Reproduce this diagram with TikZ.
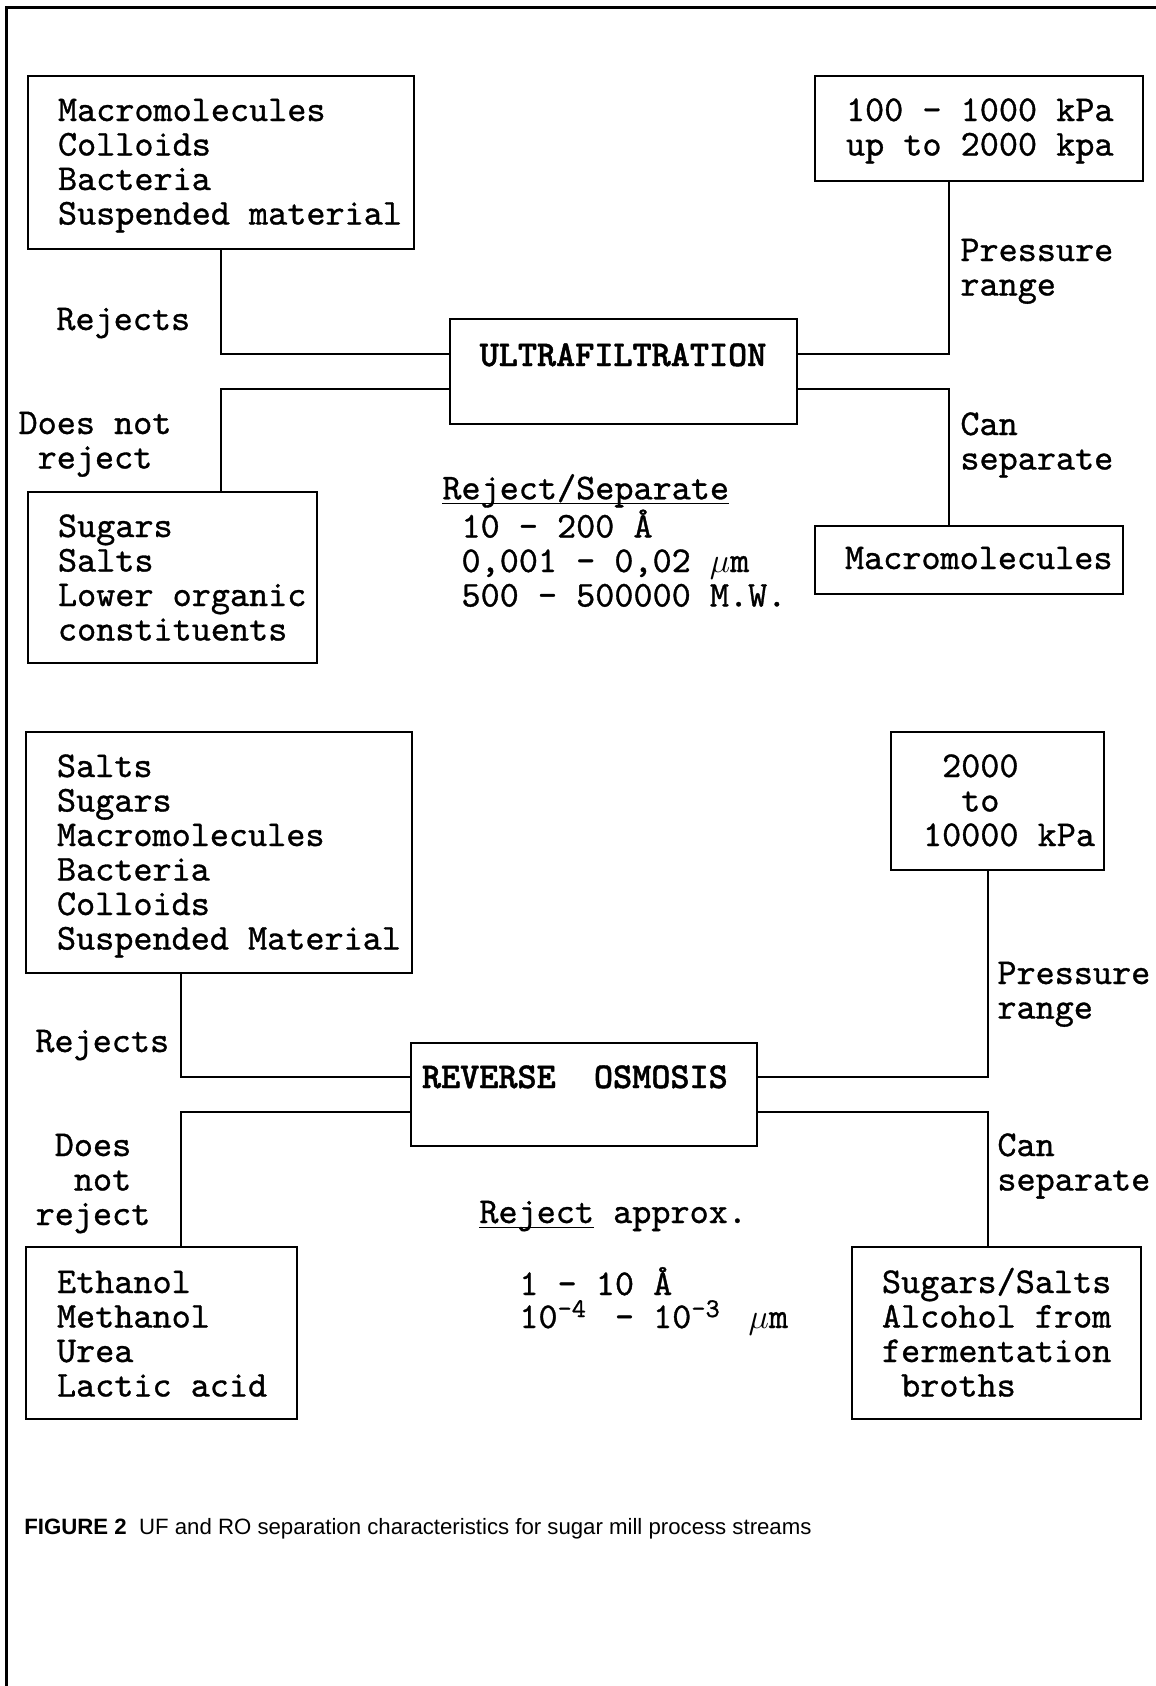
\documentclass[tikz,border=0pt]{standalone}
\usepackage{fontspec}
\setsansfont{Liberation Sans}
\newfontfamily\courr{lmmono10-regular}[Extension=.otf, FakeBold=0.9]
\newfontfamily\courb{lmmonolt10-bold}[Extension=.otf, FakeBold=1.2]
\usetikzlibrary{calc}
\newcommand{\tfont}{\courr\fontsize{18.2pt}{17.25pt}\selectfont}
\newcommand{\bfont}{\courb\fontsize{18.2pt}{17.25pt}\selectfont}
\newcommand{\chsp}{\hphantom{0}}
\newcommand{\supx}[1]{\makebox[19.11pt][l]{\raisebox{5.5pt}{\fontsize{13.5pt}{13pt}\selectfont #1}}}
\newcommand{\ulx}[1]{\setbox0\hbox{#1}\rlap{\rule[-2.6pt]{\wd0}{0.75pt}}#1}
\tikzset{
  lbox/.style n args={4}{draw, line width=1pt, inner sep=0pt,
    text width=#1, text height=#2, text depth=#3, align=left, font=\tfont,
    execute at begin node={\leftskip=#4\relax\spaceskip=\fontdimen2\font\relax\xspaceskip=\fontdimen2\font\relax},
    anchor=base west},
  cbox/.style={draw, line width=1pt, inner sep=0pt, font=\bfont},
  lbl/.style={font=\tfont, inner sep=0pt},
  conn/.style={line width=1pt},
}
\begin{document}
\begin{tikzpicture}[x=0.5pt,y=-0.5pt]
\useasboundingbox (0,0) rectangle (1156,1686);
% frame
\draw[line width=1.5pt] (6,1686) -- (6,8) -- (1156,8);

% ===== Ultrafiltration =====
\node[lbox={193pt}{22.5pt}{64pt}{15pt}] (b1) at (27,121)
  {Macromolecules\\Colloids\\Bacteria\\Suspended material};
\node[lbox={164pt}{22.5pt}{30pt}{15.5pt}] (p1) at (814,121)
  {100 - 1000 kPa\\up to 2000 kpa};
\node[cbox, align=center, minimum width=173.5pt, text height=23.5pt, text depth=29pt, anchor=north] (uf) at (623,318)
  {ULTRAFILTRATION};
\node[lbox={144.5pt}{22.5pt}{63pt}{15pt}] (s1) at (27,537)
  {Sugars\\Salts\\Lower organic\\constituents};
\node[lbox={154pt}{21.5pt}{12.5pt}{15pt}] (m1) at (814,569)
  {Macromolecules};

\coordinate (ufL) at (b1.south);
\coordinate (ufR) at ($(p1.south west)!0.4085!(p1.south east)$);
\draw[conn] (ufL) |- ($(uf.north west)!1/3!(uf.south west)$);
\draw[conn] ($(uf.north west)!2/3!(uf.south west)$) -| (ufL |- s1.north);
\draw[conn] (ufR) |- ($(uf.north east)!1/3!(uf.south east)$);
\draw[conn] ($(uf.north east)!2/3!(uf.south east)$) -| (ufR |- m1.north);

\node[lbl, anchor=base west] (rej1) at (56,330) {Rejects};
\node[lbl, align=center, anchor=base] (dnr1) at (95,468.5) {Does not\\reject};
\node[lbl, align=left, anchor=base west] (pr1) at (960,295.5) {Pressure\\range};
\node[lbl, align=left, anchor=base west] (cs1) at (960,469.5) {Can\\separate};
\node[lbl, align=left, anchor=base west] (rs1) at (442,606.5)
  {\ulx{Reject/Separate}\\\chsp 10 - 200 Å\\\chsp 0,001 - 0,02 $\mu$m\\\chsp 500 - 500000 M.W.};

% ===== Reverse osmosis =====
\node[lbox={193pt}{22.5pt}{98pt}{15.5pt}] (b2) at (25,777)
  {Salts\\Sugars\\Macromolecules\\Bacteria\\Colloids\\Suspended Material};
\node[lbox={106.5pt}{22.5pt}{46.5pt}{16pt}] (p2) at (890,777)
  {\chsp 2000\\\chsp\chsp to\\10000 kPa};
\node[cbox, text width=173pt, align=left, execute at begin node={\leftskip=5.5pt\relax\spaceskip=\fontdimen2\font\relax}, text height=22.5pt, text depth=29pt, anchor=north west] (ro) at (410,1042)
  {REVERSE\ \ OSMOSIS};
\node[lbox={135.5pt}{23pt}{63pt}{15.5pt}] (e2) at (25,1293)
  {Ethanol\\Methanol\\Urea\\Lactic acid};
\node[lbox={144.5pt}{23pt}{63pt}{15pt}] (s2) at (851,1293)
  {Sugars/Salts\\Alcohol from\\fermentation\\\chsp broths};

\coordinate (roL) at ($(b2.south west)!0.403!(b2.south east)$);
\coordinate (roR) at ($(p2.south west)!0.455!(p2.south east)$);
\draw[conn] (roL) |- ($(ro.north west)!1/3!(ro.south west)$);
\draw[conn] ($(ro.north west)!2/3!(ro.south west)$) -| (roL |- e2.north);
\draw[conn] (roR) |- ($(ro.north east)!1/3!(ro.south east)$);
\draw[conn] ($(ro.north east)!2/3!(ro.south east)$) -| (roR |- s2.north);

\node[lbl, anchor=base west] (rej2) at (35,1052) {Rejects};
\node[lbl, align=center, anchor=base] (dnr2) at (93,1225) {Does\\\chsp not\\reject};
\node[lbl, align=left, anchor=base west] (pr2) at (997,1018.5) {Pressure\\range};
\node[lbl, align=left, anchor=base west] (cs2) at (997,1190.5) {Can\\separate};
\node[lbl, anchor=base west] (ra2) at (479,1223) {\ulx{Reject} approx.};
\node[lbl, align=left, anchor=base west] (val2) at (519,1328)
  {1 - 10 Å\\[-0.75pt]10\supx{-4} - 10\supx{-3} $\mu$m};

% caption
\node[anchor=base west, inner sep=0pt, font=\sffamily\fontsize{11.1pt}{13pt}\selectfont] (cap) at (24,1534)
  {\textbf{FIGURE 2}\ \ UF and RO separation characteristics for sugar mill process streams};
\end{tikzpicture}
\end{document}
